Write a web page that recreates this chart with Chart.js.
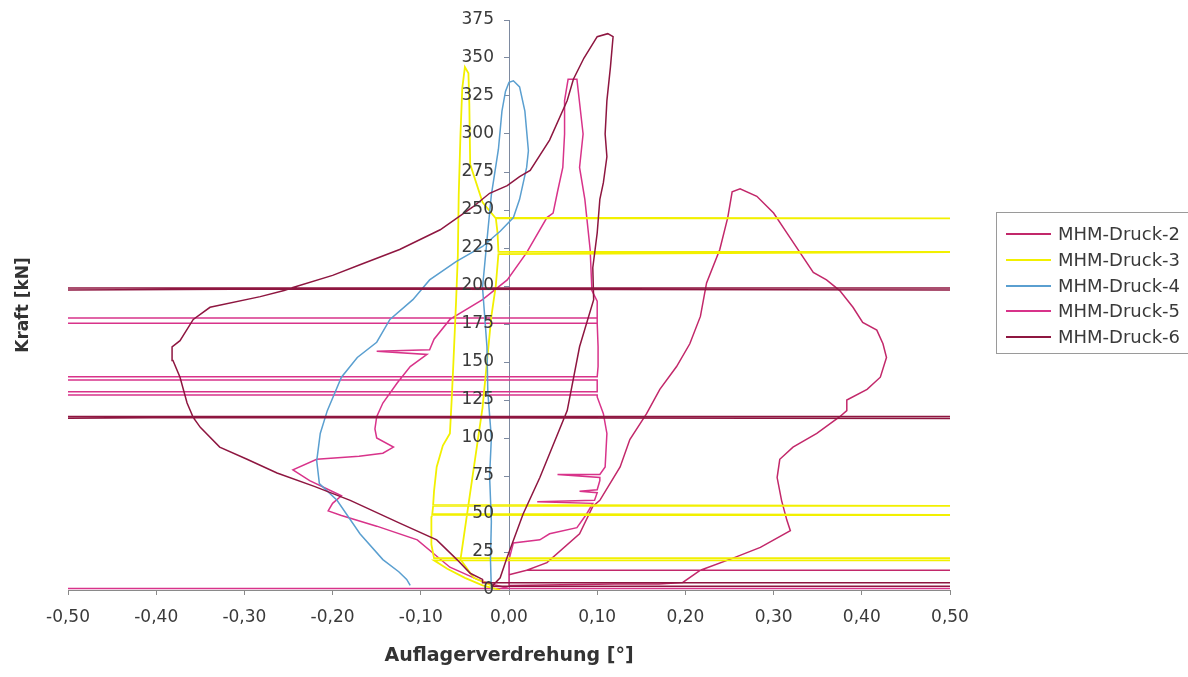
<!DOCTYPE html>
<html>
<head>
<meta charset="utf-8">
<script src="https://cdn.jsdelivr.net/npm/chart.js@4.4.1/dist/chart.umd.min.js"></script>
<style>
html,body{margin:0;padding:0;background:#fff;}
#wrap{position:relative;width:1188px;height:677px;overflow:hidden;}
#legend{position:absolute;left:996px;top:212px;width:220px;height:142px;border:1px solid #9a9a9a;box-sizing:border-box;font-family:"DejaVu Sans",sans-serif;font-size:18px;color:#3a3a3a;}
.it{position:absolute;left:0;height:22px;width:220px;}
.sw{position:absolute;left:9px;top:10px;width:45px;height:2px;}
.tx{position:absolute;left:61px;top:0;line-height:22px;white-space:nowrap;}
</style>
</head>
<body>
<div id="wrap">
<canvas id="c" width="1188" height="677"></canvas>
<div id="legend"></div>
</div>
<script>
// ---- tick labels ----
const xTickVals = [-0.5,-0.4,-0.3,-0.2,-0.1,0,0.1,0.2,0.3,0.4,0.5];
const xTickLabels = ['-0,50','-0,40','-0,30','-0,20','-0,10','0,00','0,10','0,20','0,30','0,40','0,50'];
const yTickVals = [0,25,50,75,100,125,150,175,200,225,250,275,300,325,350,375];
const yTickLabels = ['0','25','50','75','100','125','150','175','200','225','250','275','300','325','350','375'];

const seriesNames = ['MHM-Druck-2','MHM-Druck-3','MHM-Druck-4','MHM-Druck-5','MHM-Druck-6'];
const seriesColors = ['#c2286a','#f2f000','#5a9fd0','#d8338a','#8e1640'];

// ---- MHM-Druck-2 (rotation, force) ----
const d2x = [0.0,0.06,0.12,0.17,0.197,0.217,0.254,0.285,0.319,0.315,0.309,0.304,0.307,0.322,0.349,0.375,0.383,0.383,0.406,0.421,0.428,0.424,0.417,0.401,0.39,0.375,0.36,0.345,0.33,0.315,0.3,0.281,0.262,0.253,0.248,0.239,0.224,0.217,0.205,0.19,0.171,0.156,0.137,0.126,0.103,0.095,0.08,0.043,0.02,0.55,0.02,0.0];
const d2y = [3,3.5,4,4,5,13,21,28,39,46,59,74,86,94,103,114,118,125,132,140,153,162,171,176,186,197,204,209,222,235,248,259,264,262,245,224,202,180,162,147,132,116,99,81,59,55,37,18,13,13,13,10];

// ---- MHM-Druck-3 ----
const d3x = [-0.01,-0.03,-0.05,-0.07,-0.085,0.55,0.55,-0.085,-0.088,-0.088,-0.087,0.55,-0.087,-0.086,0.55,-0.086,-0.085,-0.082,-0.075,-0.067,-0.065,-0.063,-0.06,-0.058,-0.057,-0.055,-0.053,-0.05,-0.046,-0.045,-0.044,-0.03,-0.015,0.55,-0.015,-0.013,-0.012,0.55,-0.012,-0.015,-0.02,-0.025,-0.03,-0.04,-0.05,-0.055,-0.04,-0.02];
const d3y = [0,3,8,14,19.5,19.5,21,21,30,48,49.3,49.3,50,55.3,55.3,56,65,81,95,103,125,150,190,220,260,300,330,344,340,320,280,255,244.5,244.5,245,235,222.5,222.5,221,200,180,150,120,80,40,20,8,3];

// ---- MHM-Druck-4 ----
const d4x = [-0.02,-0.021,-0.02,-0.022,-0.02,-0.024,-0.025,-0.03,-0.025,-0.02,-0.012,-0.008,-0.004,0.0,0.005,0.012,0.018,0.022,0.02,0.012,0.005,-0.01,-0.03,-0.06,-0.09,-0.109,-0.135,-0.15,-0.172,-0.19,-0.206,-0.214,-0.218,-0.215,-0.195,-0.169,-0.143,-0.125,-0.116,-0.112];
const d4y = [0,20,45,75,100,130,160,199,230,260,290,315,328,334,335,331,315,289,278,257,245,236,226,216,204,191,178,163,153,140,118,103,85,70,59,37,20,12,7,3];

// ---- MHM-Druck-5 ----
const d5x = [0.0,-0.55,0.55,0.0,-0.02,-0.036,-0.067,-0.104,-0.15,-0.19,-0.205,-0.2,-0.19,-0.226,-0.245,-0.218,-0.17,-0.143,-0.131,-0.15,-0.152,-0.15,-0.143,-0.127,-0.112,-0.093,-0.15,-0.09,-0.085,-0.067,-0.03,-0.002,0.02,0.043,0.05,0.055,0.061,0.063,0.063,0.067,0.077,0.084,0.08,0.086,0.092,0.094,0.1,0.1,-0.55,0.1,0.1,-0.55,0.1,0.101,0.101,0.1,-0.55,-0.55,0.1,0.1,-0.55,-0.55,0.1,0.1,0.107,0.111,0.109,0.103,0.055,0.103,0.103,0.1,0.08,0.1,0.097,0.032,0.095,0.088,0.077,0.046,0.035,0.005,0.0,0.0,0.0];
const d5y = [1,1,1,1,4,7,15,33,42,49,52,57,62,72,79,86,88,90,94,100,106,114,123,136,147,155,157,158,165,178,191,204,222,245,248,262,278,300,322,336,336,300,278,257,224,197,190,179,179,179,175.5,175.5,175.5,160,147,140.3,140.3,138.2,138.2,130.5,130.5,128.3,128.3,127,116,103,81,76,76,74,72,66,65,64,59,58,57,50,41,37,33,31,20,10,2];

// ---- MHM-Druck-6 ----
const d6x = [-0.02,0.55,0.55,-0.03,-0.03,-0.044,-0.059,-0.082,-0.124,-0.18,-0.22,-0.263,-0.297,-0.328,-0.35,-0.358,0.55,0.55,-0.55,-0.55,-0.358,-0.365,-0.373,-0.381,-0.382,-0.373,-0.358,-0.339,-0.282,-0.255,-0.25,0.55,0.55,-0.55,-0.55,-0.25,-0.245,-0.2,-0.169,-0.124,-0.078,-0.041,-0.022,-0.002,0.012,0.024,0.046,0.066,0.073,0.085,0.1,0.112,0.118,0.115,0.111,0.109,0.111,0.107,0.103,0.1,0.095,0.096,0.08,0.066,0.035,0.016,-0.003,-0.01,-0.02];
const d6y = [2.5,2.5,4.8,4.8,7,11,20,33,44,59,68,77,86,94,107,113.5,112.8,114.2,114.2,112.8,113.5,123,140,151,160,164,178,186,193,197,198,197.3,198.7,198.7,197.3,198,199,207,214,224,237,252,261,266,272,276,296,322,336,350,364,366,364,344,322,300,285,268,257,235,212,191,160,118,74,50,20,8,2];

const xs = [d2x,d3x,d4x,d5x,d6x];
const ys = [d2y,d3y,d4y,d5y,d6y];

const datasets = seriesNames.map((name,i)=>({
  label:name,
  data: xs[i].map((x,k)=>({x:x,y:ys[i][k]})),
  showLine:true,
  borderColor:seriesColors[i],
  backgroundColor:seriesColors[i],
  borderWidth: i===1 ? 1.8 : 1.5,
  pointRadius:0,
  fill:false,
  tension:0,
  clip:0,
  order: [3,2,1,4,0][i]
}));

// legend (HTML)
const lg = document.getElementById('legend');
const yOff = [10,36,62,87,113];
seriesNames.forEach((n,i)=>{
  const d = document.createElement('div');
  d.className='it'; d.style.top = yOff[i]+'px';
  d.innerHTML = '<div class="sw" style="background:'+seriesColors[i]+'"></div><div class="tx">'+n+'</div>';
  lg.appendChild(d);
});

// axis titles + y tick labels beside the centred y axis
const titles = {
  id:'titles',
  afterDraw(chart){
    const ctx = chart.ctx;
    const xs_ = chart.scales.x, ys_ = chart.scales.y;
    ctx.save();
    ctx.fillStyle = '#3a3a3a';
    ctx.textAlign = 'right';
    ctx.textBaseline = 'middle';
    ctx.font = '17px "DejaVu Sans"';
    const ax = xs_.getPixelForValue(0);
    yTickVals.forEach((v,i)=>{
      ctx.fillText(yTickLabels[i], ax - 15, ys_.getPixelForValue(v));
    });
    ctx.fillStyle = '#333';
    ctx.textAlign = 'center';
    ctx.font = 'bold 19px "DejaVu Sans"';
    ctx.fillText('Auflagerverdrehung [°]', 509, 656);
    ctx.translate(24, 305);
    ctx.rotate(-Math.PI/2);
    ctx.font = 'bold 17px "DejaVu Sans"';
    ctx.fillText('Kraft [kN]', 0, 0);
    ctx.restore();
  }
};

new Chart(document.getElementById('c'), {
  type:'scatter',
  data:{datasets:datasets},
  options:{
    responsive:false,
    animation:false,
    layout:{padding:{left:68,right:238,top:20,bottom:0}},
    plugins:{legend:{display:false},tooltip:{enabled:false}},
    scales:{
      x:{
        type:'linear', min:-0.5, max:0.5, position:'bottom',
        afterFit(s){ s.height = 87; },
        afterBuildTicks(s){ s.ticks = xTickVals.map(v=>({value:v})); },
        ticks:{callback:(v,i)=>xTickLabels[i], font:{family:'DejaVu Sans',size:17}, color:'#3a3a3a', padding:12, maxRotation:0, autoSkip:false},
        grid:{drawOnChartArea:false, drawTicks:true, tickLength:5, color:'#8a8a8a'},
        border:{color:'#8a8a8a', width:1}
      },
      y:{
        type:'linear', min:0, max:375, position:{x:0},
        afterBuildTicks(s){ s.ticks = yTickVals.map(v=>({value:v})); },
        ticks:{callback:(v,i)=>yTickLabels[i], font:{family:'DejaVu Sans',size:17}, color:'rgba(0,0,0,0)', padding:8, autoSkip:false},
        grid:{drawOnChartArea:false, drawTicks:true, tickLength:5, color:'#7d8aa0'},
        border:{color:'#7d8aa0', width:1}
      }
    }
  },
  plugins:[titles]
});
</script>
</body>
</html>
